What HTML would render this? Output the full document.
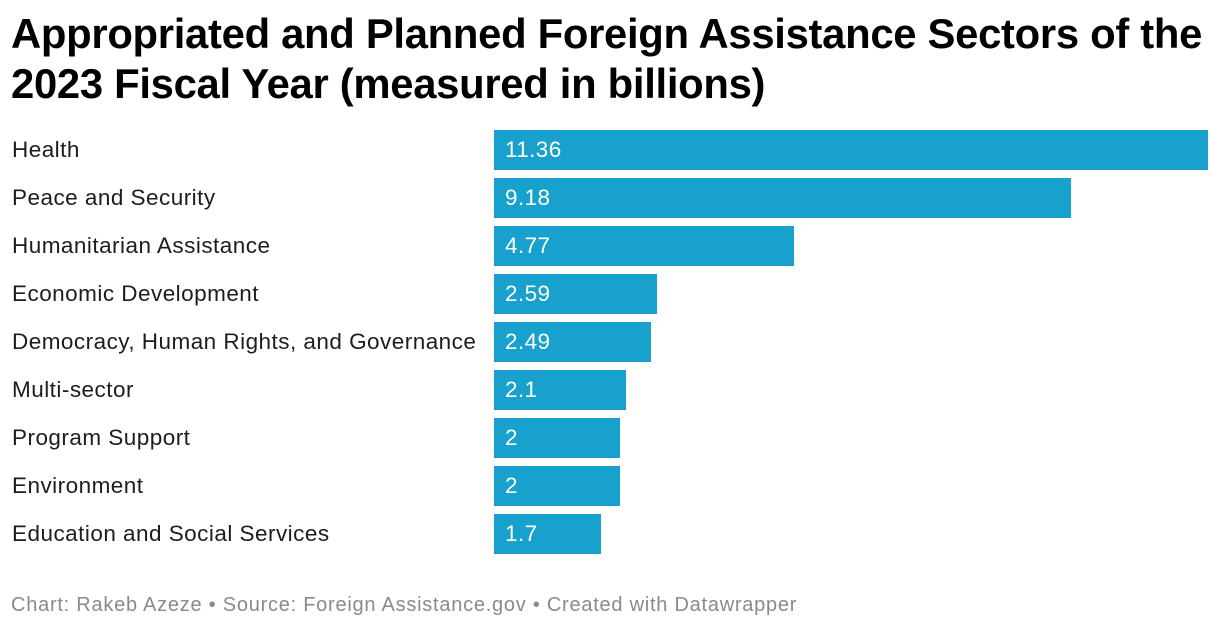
<!DOCTYPE html>
<html><head><meta charset="utf-8"><style>
body{margin:0;width:1220px;height:630px;background:#fff;font-family:"Liberation Sans",sans-serif;overflow:hidden;position:relative}
h1{position:absolute;left:11px;top:9px;margin:0;font-size:41.8px;line-height:50px;font-weight:bold;color:#000;letter-spacing:-0.3px;white-space:nowrap}
.lbl{position:absolute;left:12px;font-size:22.5px;letter-spacing:0.47px;color:#1d1d1d;line-height:40px;white-space:nowrap}
.bar{position:absolute;left:494px;height:40px;background:#18a1cd}
.val{position:absolute;left:505px;font-size:22.5px;letter-spacing:0.4px;color:#fff;line-height:40px}
.foot{position:absolute;left:11px;top:594px;font-size:20px;letter-spacing:0.75px;color:#8a8a8a;white-space:nowrap}
</style></head><body>
<h1>Appropriated and Planned Foreign Assistance Sectors of the<br>2023 Fiscal Year (measured in billions)</h1>
<div id="chart"></div>
<div class="foot">Chart: Rakeb Azeze • Source: Foreign Assistance.gov • Created with Datawrapper</div>
<script>
const categories=["Health","Peace and Security","Humanitarian Assistance","Economic Development","Democracy, Human Rights, and Governance","Multi-sector","Program Support","Environment","Education and Social Services"];
const values=[11.36,9.18,4.77,2.59,2.49,2.1,2,2,1.7];
const labels=["11.36","9.18","4.77","2.59","2.49","2.1","2","2","1.7"];
const maxV=Math.max(...values);
function xScale(v){return v/maxV*714;}
function yPos(i){return 130+i*48;}
const c=document.getElementById('chart');
categories.forEach((cat,i)=>{
const l=document.createElement('div');l.className='lbl';l.style.top=yPos(i)+'px';l.textContent=cat;


c.appendChild(l);
const b=document.createElement('div');b.className='bar';b.style.top=yPos(i)+'px';b.style.width=xScale(values[i])+'px';


c.appendChild(b);
const v=document.createElement('div');v.className='val';v.style.top=yPos(i)+'px';v.textContent=labels[i];


c.appendChild(v);
});
</script>
</body></html>
